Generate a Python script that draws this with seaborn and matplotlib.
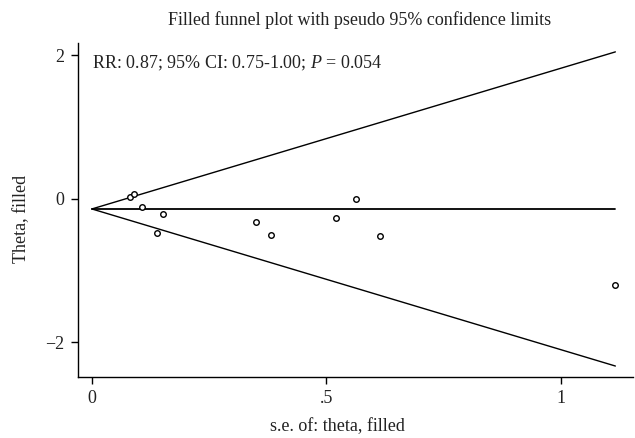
import numpy as np
import pandas as pd
import matplotlib
matplotlib.use("Agg")
import matplotlib.pyplot as plt
import seaborn as sns

# Data
se_values = [0.082, 0.090, 0.107, 0.140, 0.151, 0.351, 0.382, 0.521, 0.563, 0.615, 1.117]
theta_values = [0.024, 0.066, -0.107, -0.478, -0.209, -0.321, -0.502, -0.261, 0.0, -0.511, -1.199]
pooled_rr = 0.87
x_ticks = [0, 0.5, 1]
x_tick_labels = ["0", ".5", "1"]
y_ticks = [-2, 0, 2]
y_tick_labels = ["\u22122", "0", "2"]

title = "Filled funnel plot with pseudo 95% confidence limits"
annotation = "RR: 0.87; 95% CI: 0.75-1.00; $\\it{P}$ = 0.054"

sns.set_theme(style="ticks")
plt.rcParams["font.family"] = ["Liberation Serif", "DejaVu Serif"]
plt.rcParams["mathtext.fontset"] = "custom"
plt.rcParams["mathtext.rm"] = "Liberation Serif"
plt.rcParams["mathtext.it"] = "Liberation Serif:italic"

FS = 13
TXT = "#222222"

df = pd.DataFrame({"se": se_values, "theta": theta_values})

fig = plt.figure(figsize=(6.35, 4.38), dpi=100)
ax = fig.add_axes([0.1233, 0.14, 0.8731, 0.7625])

center = np.log(pooled_rr)
se_max = max(se_values)
funnel = pd.DataFrame({
    "se": [0, se_max],
    "upper": [center, center + 1.96 * se_max],
    "lower": [center, center - 1.96 * se_max],
    "mid": [center, center],
})
for col in ["upper", "lower"]:
    sns.lineplot(data=funnel, x="se", y=col, ax=ax, color="black", linewidth=1.0)
sns.lineplot(data=funnel, x="se", y="mid", ax=ax, color="black", linewidth=1.3)

sns.scatterplot(data=df, x="se", y="theta", ax=ax, marker="o", s=16,
                facecolor="white", edgecolor="black", linewidth=1.0, zorder=3)

ax.set_xlim(-0.029, 1.154)
ax.set_ylim(-2.477, 2.178)
ax.set_xticks(x_ticks)
ax.set_xticklabels(x_tick_labels)
ax.set_yticks(y_ticks)
ax.set_yticklabels(y_tick_labels)
ax.tick_params(axis="both", direction="out", length=4.8, width=1, color="black",
               labelsize=FS, labelcolor=TXT)
ax.tick_params(axis="x", pad=4.5)
ax.tick_params(axis="y", pad=5.5)
for s in ["top", "right"]:
    ax.spines[s].set_visible(False)
for s in ["left", "bottom"]:
    ax.spines[s].set_color("black")
    ax.spines[s].set_linewidth(1.0)

ax.set_xlabel("s.e. of: theta, filled", fontsize=FS, color=TXT, va="center")
ax.xaxis.set_label_coords((337 - 78.3) / 554.4, (376.7 - 427) / 334)
ax.set_ylabel("Theta, filled", fontsize=FS, color=TXT, va="center")
ax.yaxis.set_label_coords((22 - 78.3) / 554.4, (376.7 - 219) / 334)

fig.text(360 / 635, 1 - 20 / 438, title, ha="center", va="center", fontsize=FS, color=TXT)
ax.text((92 - 78.3) / 554.4, (376.7 - 68) / 334, annotation, transform=ax.transAxes,
        ha="left", va="baseline", fontsize=FS, color=TXT)

fig.savefig("out.png", dpi=100)
